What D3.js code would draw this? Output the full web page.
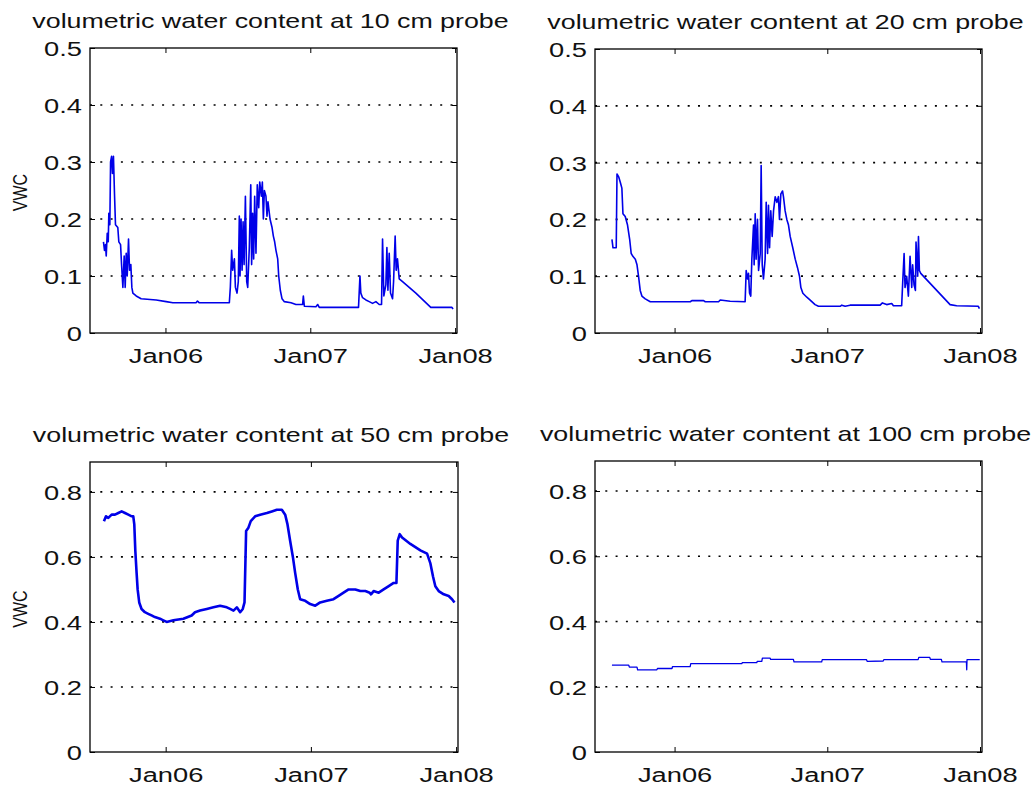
<!DOCTYPE html>
<html>
<head>
<meta charset="utf-8">
<script src="https://cdn.jsdelivr.net/npm/d3@7"></script>
<style>
  body { margin: 0; background: #fff; }
  text { font-family: "Liberation Sans", Arial, sans-serif; fill: #111; }
</style>
</head>
<body>
<div id="root"></div>
<script>
// values: [decimal year, vwc]
const vwc10 = [
  [2005.572,0.160],[2005.579,0.145],[2005.586,0.155],[2005.591,0.135],[2005.598,0.175],[2005.605,0.160],
  [2005.609,0.210],[2005.616,0.190],[2005.621,0.300],[2005.628,0.310],[2005.634,0.280],[2005.641,0.310],
  [2005.648,0.245],[2005.655,0.190],[2005.671,0.185],[2005.678,0.160],[2005.690,0.155],[2005.697,0.120],
  [2005.706,0.080],[2005.715,0.135],[2005.722,0.080],[2005.729,0.140],[2005.736,0.100],[2005.745,0.165],
  [2005.752,0.110],[2005.761,0.120],[2005.768,0.080],[2005.775,0.070],[2005.798,0.065],[2005.832,0.060],
  [2005.936,0.058],[2006.005,0.055],[2006.051,0.053],[2006.211,0.053],[2006.221,0.056],[2006.234,0.053],
  [2006.441,0.053],[2006.448,0.080],[2006.457,0.145],[2006.464,0.110],[2006.476,0.130],[2006.483,0.080],
  [2006.494,0.070],[2006.503,0.090],[2006.510,0.205],[2006.515,0.100],[2006.522,0.200],[2006.529,0.110],
  [2006.536,0.195],[2006.543,0.120],[2006.552,0.240],[2006.561,0.090],[2006.568,0.080],[2006.579,0.150],
  [2006.589,0.260],[2006.595,0.120],[2006.602,0.210],[2006.609,0.130],[2006.616,0.240],[2006.625,0.140],
  [2006.634,0.260],[2006.644,0.220],[2006.651,0.265],[2006.662,0.240],[2006.669,0.265],[2006.676,0.200],
  [2006.683,0.250],[2006.694,0.240],[2006.701,0.205],[2006.708,0.230],[2006.722,0.200],[2006.736,0.185],
  [2006.745,0.170],[2006.754,0.160],[2006.763,0.145],[2006.775,0.130],[2006.782,0.100],[2006.793,0.075],
  [2006.805,0.060],[2006.821,0.055],[2006.867,0.053],[2006.901,0.050],[2006.947,0.050],[2006.952,0.065],
  [2006.959,0.047],[2007.039,0.046],[2007.051,0.050],[2007.062,0.045],[2007.333,0.045],[2007.343,0.100],
  [2007.349,0.070],[2007.361,0.062],[2007.384,0.058],[2007.407,0.055],[2007.430,0.052],[2007.453,0.055],
  [2007.476,0.050],[2007.492,0.050],[2007.499,0.165],[2007.508,0.065],[2007.522,0.085],[2007.529,0.150],
  [2007.536,0.075],[2007.545,0.140],[2007.554,0.070],[2007.568,0.060],[2007.575,0.090],[2007.586,0.170],
  [2007.593,0.110],[2007.602,0.130],[2007.614,0.095],[2007.637,0.090],[2007.729,0.070],[2007.832,0.045],
  [2007.959,0.045],[2007.977,0.045],[2007.986,0.042]
];

const vwc20 = [
  [2005.590,0.165],[2005.597,0.150],[2005.618,0.150],[2005.623,0.280],[2005.634,0.275],[2005.645,0.265],
  [2005.655,0.255],[2005.662,0.210],[2005.677,0.205],[2005.692,0.190],[2005.706,0.165],[2005.716,0.140],
  [2005.727,0.135],[2005.743,0.130],[2005.754,0.120],[2005.764,0.100],[2005.775,0.075],[2005.786,0.065],
  [2005.808,0.060],[2005.841,0.055],[2005.972,0.055],[2006.103,0.055],[2006.113,0.057],[2006.190,0.057],
  [2006.201,0.055],[2006.288,0.055],[2006.299,0.058],[2006.364,0.056],[2006.462,0.055],[2006.469,0.110],
  [2006.478,0.095],[2006.484,0.105],[2006.491,0.070],[2006.499,0.065],[2006.506,0.130],[2006.517,0.190],
  [2006.521,0.120],[2006.528,0.210],[2006.534,0.130],[2006.543,0.200],[2006.550,0.110],[2006.561,0.140],
  [2006.567,0.295],[2006.574,0.120],[2006.582,0.095],[2006.593,0.130],[2006.600,0.230],[2006.609,0.140],
  [2006.615,0.225],[2006.622,0.150],[2006.630,0.215],[2006.639,0.170],[2006.648,0.215],[2006.659,0.240],
  [2006.670,0.230],[2006.680,0.240],[2006.687,0.200],[2006.696,0.245],[2006.707,0.250],[2006.713,0.240],
  [2006.724,0.215],[2006.735,0.200],[2006.746,0.190],[2006.757,0.170],[2006.774,0.150],[2006.790,0.130],
  [2006.805,0.115],[2006.818,0.100],[2006.827,0.080],[2006.840,0.070],[2006.866,0.063],[2006.888,0.058],
  [2006.920,0.050],[2006.942,0.047],[2007.084,0.047],[2007.095,0.049],[2007.117,0.047],[2007.149,0.049],
  [2007.346,0.049],[2007.361,0.053],[2007.389,0.050],[2007.422,0.052],[2007.433,0.048],[2007.487,0.048],
  [2007.494,0.090],[2007.503,0.140],[2007.509,0.080],[2007.520,0.100],[2007.531,0.065],[2007.542,0.135],
  [2007.553,0.080],[2007.559,0.120],[2007.568,0.085],[2007.577,0.075],[2007.581,0.160],[2007.592,0.100],
  [2007.597,0.170],[2007.603,0.110],[2007.612,0.105],[2007.804,0.050],[2007.847,0.048],[2007.989,0.047],
  [2007.996,0.043]
];

const vwc50 = [
  [2005.575,0.710],[2005.589,0.725],[2005.605,0.720],[2005.628,0.730],[2005.651,0.730],[2005.674,0.735],
  [2005.697,0.740],[2005.720,0.735],[2005.743,0.730],[2005.766,0.725],[2005.777,0.725],[2005.784,0.700],
  [2005.791,0.620],[2005.800,0.550],[2005.807,0.500],[2005.818,0.460],[2005.834,0.440],[2005.857,0.430],
  [2005.880,0.425],[2005.903,0.420],[2005.926,0.415],[2005.961,0.410],[2005.984,0.405],[2006.007,0.400],
  [2006.053,0.405],[2006.122,0.410],[2006.179,0.420],[2006.202,0.430],[2006.237,0.435],[2006.283,0.440],
  [2006.329,0.445],[2006.375,0.450],[2006.421,0.445],[2006.444,0.440],[2006.467,0.435],[2006.490,0.445],
  [2006.513,0.430],[2006.531,0.440],[2006.543,0.460],[2006.554,0.680],[2006.570,0.690],[2006.586,0.710],
  [2006.616,0.725],[2006.651,0.730],[2006.697,0.735],[2006.731,0.740],[2006.766,0.745],[2006.800,0.745],
  [2006.823,0.730],[2006.839,0.700],[2006.857,0.650],[2006.876,0.600],[2006.892,0.550],[2006.910,0.500],
  [2006.926,0.470],[2006.961,0.465],[2006.995,0.455],[2007.030,0.450],[2007.064,0.460],[2007.110,0.465],
  [2007.156,0.470],[2007.191,0.480],[2007.225,0.490],[2007.260,0.500],[2007.306,0.500],[2007.340,0.495],
  [2007.375,0.495],[2007.405,0.490],[2007.414,0.485],[2007.432,0.495],[2007.467,0.490],[2007.501,0.500],
  [2007.536,0.510],[2007.570,0.520],[2007.589,0.520],[2007.598,0.650],[2007.612,0.670],[2007.628,0.660],
  [2007.685,0.640],[2007.754,0.620],[2007.800,0.610],[2007.823,0.580],[2007.841,0.540],[2007.857,0.510],
  [2007.880,0.495],[2007.915,0.485],[2007.949,0.480],[2007.972,0.470],[2007.989,0.460]
];

const vwc100 = [
  [2005.590,0.266],[2005.700,0.266],[2005.704,0.260],[2005.754,0.260],[2005.758,0.252],[2005.884,0.252],
  [2005.888,0.256],[2005.983,0.256],[2005.987,0.262],[2006.102,0.262],[2006.106,0.271],[2006.440,0.271],
  [2006.444,0.274],[2006.538,0.274],[2006.542,0.278],[2006.571,0.278],[2006.575,0.288],[2006.625,0.288],
  [2006.629,0.284],[2006.778,0.284],[2006.782,0.276],[2006.963,0.276],[2006.967,0.283],[2007.257,0.283],
  [2007.261,0.278],[2007.366,0.279],[2007.370,0.283],[2007.595,0.283],[2007.599,0.290],[2007.671,0.290],
  [2007.675,0.284],[2007.747,0.284],[2007.751,0.276],[2007.911,0.276],[2007.913,0.252],[2007.915,0.283],
  [2007.998,0.283]
];

const depths = [10, 20, 50, 100];
const xTickYears = [2006, 2007, 2008];
const xTickLabels = ["Jan06", "Jan07", "Jan08"];
const yTicksTop = [0, 0.1, 0.2, 0.3, 0.4, 0.5];
const yTicksBottom = [0, 0.2, 0.4, 0.6, 0.8];

const W = 1036, H = 789;
const SX = 1.3;      // the source picture is stretched sideways
const SX_TITLE = 1.34;

const toDate = y => {
  const yr = Math.floor(y);
  const a = Date.UTC(yr, 0, 1), b = Date.UTC(yr + 1, 0, 1);
  return new Date(a + (y - yr) * (b - a));
};

const panels = [
  { data: vwc10,  depth: depths[0], box: [90, 48, 457, 333],  yMax: 0.5,   yTicks: yTicksTop,    ylabel: true,  lw: 1.6 },
  { data: vwc20,  depth: depths[1], box: [595, 49, 982, 333], yMax: 0.5,   yTicks: yTicksTop,    ylabel: false, lw: 1.6 },
  { data: vwc50,  depth: depths[2], box: [90, 462, 458, 752], yMax: 0.892, yTicks: yTicksBottom, ylabel: true,  lw: 2.6 },
  { data: vwc100, depth: depths[3], box: [595, 461, 982, 752],yMax: 0.892, yTicks: yTicksBottom, ylabel: false, lw: 1.3 }
];

const svg = d3.select("#root").append("svg")
  .attr("width", W).attr("height", H);
svg.append("rect").attr("width", W).attr("height", H).attr("fill", "#fff");

panels.forEach(p => {
  const [x0, y0, x1, y1] = p.box;
  const x = d3.scaleUtc().domain([toDate(2005.479), toDate(2008.013)]).range([x0, x1]);
  const y = d3.scaleLinear().domain([0, p.yMax]).range([y1, y0]);
  const xTicks = xTickYears.map(toDate);
  const g = svg.append("g");

  // dotted y grid
  g.selectAll(".grid").data(p.yTicks.filter(d => d > 0 && d < p.yMax - 1e-9))
    .join("line")
    .attr("x1", x0).attr("x2", x1)
    .attr("y1", d => y(d)).attr("y2", d => y(d))
    .attr("stroke", "#000").attr("stroke-width", 1.7)
    .attr("stroke-dasharray", "2,8.3");

  const line = d3.line().x(d => x(toDate(d[0]))).y(d => y(d[1]));
  g.append("path").datum(p.data)
    .attr("d", line)
    .attr("fill", "none")
    .attr("stroke", "#0000e8")
    .attr("stroke-width", p.lw)
    .attr("stroke-linejoin", "round");

  const bottom = g.append("g").attr("transform", `translate(0,${y1})`)
    .call(d3.axisBottom(x).tickValues(xTicks).tickSize(-5).tickSizeOuter(0)
      .tickPadding(15).tickFormat((d, i) => xTickLabels[i]));
  g.append("g").attr("transform", `translate(0,${y0})`)
    .call(d3.axisTop(x).tickValues(xTicks).tickSize(-5).tickSizeOuter(0).tickFormat(() => ""));
  const left = g.append("g").attr("transform", `translate(${x0},0)`)
    .call(d3.axisLeft(y).tickValues(p.yTicks).tickSize(-5).tickSizeOuter(0)
      .tickFormat(d => String(d)));
  g.append("g").attr("transform", `translate(${x1},0)`)
    .call(d3.axisRight(y).tickValues(p.yTicks).tickSize(-5).tickSizeOuter(0).tickFormat(() => ""));

  g.selectAll(".domain").remove();
  g.selectAll(".tick line").attr("stroke", "#000");
  bottom.selectAll("text").attr("font-size", 21).attr("fill", "#111")
    .attr("font-family", "Liberation Sans, Arial, sans-serif")
    .attr("transform", `scale(${SX},1)`);
  left.selectAll("text").attr("font-size", 21).attr("fill", "#111")
    .attr("font-family", "Liberation Sans, Arial, sans-serif")
    .attr("x", -8 / SX).attr("dy", "0.36em")
    .attr("transform", `scale(${SX},1)`);

  g.append("rect")
    .attr("x", x0).attr("y", y0).attr("width", x1 - x0).attr("height", y1 - y0)
    .attr("fill", "none").attr("stroke", "#000").attr("stroke-width", 1.3);

  g.append("text")
    .attr("x", ((x0 + x1) / 2 - 3) / SX_TITLE).attr("y", y0 - 20)
    .attr("transform", `scale(${SX_TITLE},1)`)
    .attr("text-anchor", "middle").attr("font-size", 20)
    .text(`volumetric water content at ${p.depth} cm probe`);

  if (p.ylabel) {
    g.append("text")
      .attr("transform", `translate(20,${(y0 + y1) / 2 + 2}) scale(${SX},1) rotate(-90)`)
      .attr("text-anchor", "middle").attr("dy", "0.35em").attr("font-size", 16)
      .text("VWC");
  }
});
</script>
</body>
</html>
